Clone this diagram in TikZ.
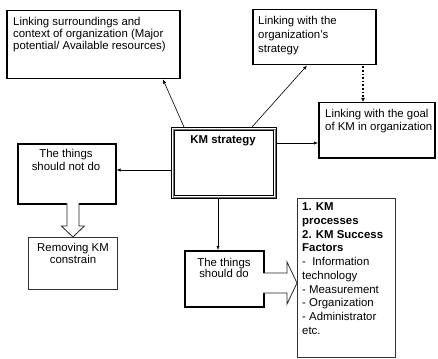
\documentclass[tikz,border=0pt]{standalone}
\usepackage{fontspec}
\setmainfont{Liberation Sans}
\usetikzlibrary{calc,arrows.meta}
\begin{document}
\begin{tikzpicture}[x=1pt,y=-1pt,
  box/.style={draw=black,line width=1.5pt,inner sep=0pt,anchor=north west},
  thinbox/.style={draw=black!80,line width=0.8pt,inner sep=0pt,anchor=north west},
  txt/.style={inner sep=0pt,align=left,anchor=north west},
  ctxt/.style={inner sep=0pt,align=center,anchor=north},
  arr/.style={line width=0.6pt,-{Latex[length=4pt,width=3.2pt]}},
  dotarr/.style={line width=1.6pt,dotted,-{Latex[length=4pt,width=4pt]}},
  hollow/.style={draw=black!85,line width=0.8pt,fill=white,line join=miter}]
\useasboundingbox (0,0) rectangle (438,358);
\fill[white] (0,0) rectangle (438,358);

% boxes
\node[box, minimum width=173pt, minimum height=68pt] (b1) at (6,10) {};
\node[box, minimum width=123pt, minimum height=55pt] (b2) at (252,9) {};
\node[box, minimum width=116pt, minimum height=55pt] (b3) at (318,102) {};
\node[draw=black, line width=1.2pt, inner sep=0pt, anchor=north west,
      minimum width=105pt, minimum height=71pt] (km) at (171,127) {};
\draw[black!55, line width=1pt] ($(km.north west)+(2.2,2.2)$) rectangle ($(km.south east)+(-2.2,-2.2)$);
\draw[black, line width=0.8pt] ($(km.north west)+(3.6,3.6)$) rectangle ($(km.south east)+(-3.6,-3.6)$);
\node[box, minimum width=98pt, minimum height=60pt] (b4) at (17,143) {};
\node[thinbox, minimum width=89pt, minimum height=52pt] (b5) at (28,237) {};
\node[box, minimum width=79pt, minimum height=56pt] (b6) at (184,250) {};
\node[thinbox, minimum width=98pt, minimum height=159pt] (b7) at (297,198) {};

% texts
\node[txt, font=\fontsize{11.4}{11.8}\selectfont] (t1) at (13,17.3)
  {Linking surroundings and\\context of organization (Major\\potential/ Available resources)};
\node[txt, font=\fontsize{11.4}{14}\selectfont] (t2) at (258,15.8)
  {Linking with the\\organization’s\\strategy};
\node[txt, font=\fontsize{11.4}{13.3}\selectfont] (t3) at (325,108.8)
  {Linking with the goal\\of KM in organization};
\node[inner sep=0pt, anchor=base, font=\bfseries\fontsize{11.4}{12}\selectfont] (tkm) at (223,143) {KM strategy};
\node[ctxt, font=\fontsize{11.4}{13}\selectfont] (t4) at (66,148.8) {The things\\should not do};
\node[ctxt, font=\fontsize{11.4}{12}\selectfont] (t5) at (73,242.8) {Removing KM\\constrain};
\node[ctxt, font=\fontsize{11.4}{11.5}\selectfont] (t6) at (224,257.8) {The things\\should do};
\node[txt, font=\fontsize{11.4}{13.7}\selectfont] (t7) at (302,202.8)
  {\textbf{1. KM}\\\textbf{processes}\\\textbf{2. KM Success}\\\textbf{Factors}\\-\ \ Information\\technology\\- Measurement\\- Organization\\- Administrator\\etc.};

% connectors
\draw[arr] ($(km.north west)+(13,0)$) -- ($(b1.south west)+(157,0)$);
\draw[arr] ($(km.north west)+(81,0)$) -- ($(b2.south west)+(55,0)$);
\draw[arr] ($(km.north east)+(0,16)$) -- ($(b3.north west)+(0,41)$);
\draw[dotarr] ($(b2.south west)+(111,1)$) -- ($(b3.north west)+(111-66,0)$);
\draw[arr] ($(km.north west)+(0,43)$) -- ($(b4.north east)+(0,27)$);
\draw[arr] ($(km.south west)+(47,0)$) -- ($(b6.north west)+(34,0)$);

% hollow arrows
\draw[hollow] ($(b5.north)+(-6,-34)$) -- ($(b5.north)+(-6,-11)$) -- ($(b5.north)+(-11.5,-11)$)
  -- (b5.north) -- ($(b5.north)+(11.5,-11)$) -- ($(b5.north)+(6,-11)$) -- ($(b5.north)+(6,-34)$);
\draw[hollow] ($(b7.north west)+(-34,75)$) -- ($(b7.north west)+(-10,75)$) -- ($(b7.north west)+(-10,64)$)
  -- ($(b7.north west)+(0,85)$) -- ($(b7.north west)+(-10,106)$) -- ($(b7.north west)+(-10,95)$)
  -- ($(b7.north west)+(-34,95)$);
\end{tikzpicture}
\end{document}
